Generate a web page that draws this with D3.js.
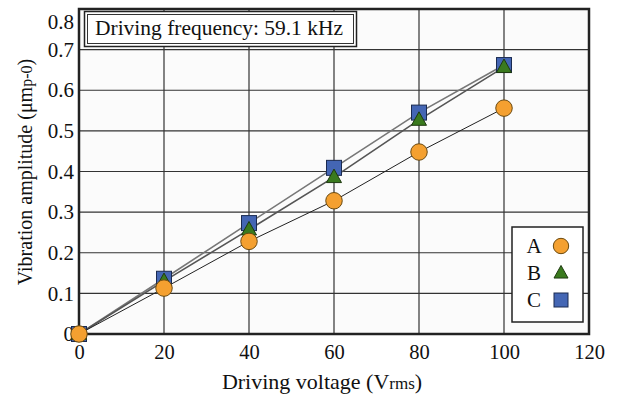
<!DOCTYPE html>
<html><head><meta charset="utf-8">
<script src="https://cdn.jsdelivr.net/npm/d3@7/dist/d3.min.js"></script>
<style>body{margin:0;background:#fff;}</style>
</head><body><svg id="c" width="622" height="397" font-family="Liberation Serif"></svg>
<script>
const voltages = [0, 20, 40, 60, 80, 100];
const seriesA = [0, 0.113, 0.228, 0.328, 0.448, 0.556];
const seriesB = [0, 0.130, 0.257, 0.386, 0.527, 0.657];
const seriesC = [0, 0.136, 0.273, 0.409, 0.545, 0.662];
const seriesNames = ["A", "B", "C"];
const xTicks = [0, 20, 40, 60, 80, 100, 120];
const yTicks = [0, 0.1, 0.2, 0.3, 0.4, 0.5, 0.6, 0.7, 0.8];
const yTickLabels = ["0", "0.1", "0.2", "0.3", "0.4", "0.5", "0.6", "0.7", "0.8"];
const annotation = "Driving frequency: 59.1 kHz";
const FONT = "Liberation Serif";

const svg = d3.select("#c");
const L = 79, R = 589, T = 9, B = 334;
const x = d3.scaleLinear().domain([0, 120]).range([L, R]);
const y = d3.scaleLinear().domain([0, 0.8]).range([B, T]);

svg.append("rect").attr("x", L).attr("y", T).attr("width", R - L).attr("height", B - T).attr("fill", "#fbfbfb");

// grid
svg.append("g").selectAll("line").data(xTicks.slice(1, -1)).join("line")
  .attr("x1", d => x(d)).attr("x2", d => x(d)).attr("y1", T).attr("y2", B)
  .attr("stroke", "#333").attr("stroke-width", 1.2);
svg.append("g").selectAll("line").data(yTicks.slice(1, -1)).join("line")
  .attr("y1", d => y(d)).attr("y2", d => y(d)).attr("x1", L).attr("x2", R)
  .attr("stroke", "#333").attr("stroke-width", 1.2);

// axes
const xAxis = d3.axisBottom(x).tickValues(xTicks).tickSize(0).tickPadding(10);
const gx = svg.append("g").attr("transform", `translate(0,${B})`).call(xAxis);
gx.attr("font-family", FONT).attr("font-size", 20.5);
gx.select(".domain").remove();
gx.selectAll("text").attr("fill", "#111").attr("font-family", FONT);
const yAxis = d3.axisLeft(y).tickValues(yTicks).tickFormat((d, i) => yTickLabels[i]).tickSize(0).tickPadding(5);
const gy = svg.append("g").attr("transform", `translate(${L},0)`).call(yAxis);
gy.attr("font-family", FONT).attr("font-size", 21);
gy.select(".domain").remove();
gy.selectAll("text").attr("fill", "#111").attr("font-family", FONT)
  .attr("dy", d => d === 0.8 ? "0.95em" : "0.32em");

// frame
svg.append("rect").attr("x", L).attr("y", T).attr("width", R - L).attr("height", B - T)
  .attr("fill", "none").attr("stroke", "#222").attr("stroke-width", 2.5);

// lines
const data = [seriesA, seriesB, seriesC];
const lineGen = d3.line().x((d, i) => x(voltages[i])).y(d => y(d));
const lineStyles = [{c: "#222", w: 1}, {c: "#555", w: 1.6}, {c: "#777", w: 1.6}];
[2, 1, 0].forEach(k => {
  svg.append("path").datum(data[k]).attr("d", lineGen).attr("fill", "none")
    .attr("stroke", lineStyles[k].c).attr("stroke-width", lineStyles[k].w);
});

const colors = {A: "#f4a030", B: "#3a7a1e", C: "#4466b4"};
function marker(g, name, cx, cy, s) {
  if (name === "A") {
    g.append("circle").attr("cx", cx).attr("cy", cy).attr("r", s * 0.55)
      .attr("fill", colors.A).attr("stroke", "#6b4a10").attr("stroke-width", 1);
  } else if (name === "B") {
    const h = s * 0.9, w = s * 1.0;
    g.append("path").attr("d", `M${cx},${cy - h * 0.6} L${cx + w / 2},${cy + h * 0.4} L${cx - w / 2},${cy + h * 0.4} Z`)
      .attr("fill", colors.B).attr("stroke", "#1e3a10").attr("stroke-width", 1);
  } else {
    g.append("rect").attr("x", cx - s / 2).attr("y", cy - s / 2).attr("width", s).attr("height", s)
      .attr("fill", colors.C).attr("stroke", "#1a2a50").attr("stroke-width", 1);
  }
}
const mg = svg.append("g");
[2, 1, 0].forEach(k => {
  data[k].forEach((v, i) => marker(mg, seriesNames[k], x(voltages[i]), y(v), 15));
});

// annotation box
const ab = svg.append("g");
ab.append("rect").attr("x", 84.5).attr("y", 11.5).attr("width", 272).attr("height", 35)
  .attr("fill", "#fff").attr("stroke", "#222").attr("stroke-width", 1.5);
ab.append("rect").attr("x", 87.5).attr("y", 14.5).attr("width", 266).attr("height", 29)
  .attr("fill", "none").attr("stroke", "#333").attr("stroke-width", 1);
ab.append("text").attr("x", 95).attr("y", 35).attr("font-family", FONT).attr("font-size", 21)
  .attr("textLength", 248).attr("lengthAdjust", "spacingAndGlyphs").attr("fill", "#111").text(annotation);

// legend
const lg = svg.append("g");
lg.append("rect").attr("x", 512).attr("y", 227).attr("width", 71).attr("height", 95)
  .attr("fill", "#fff").attr("stroke", "#222").attr("stroke-width", 1.5);
seriesNames.forEach((n, i) => {
  const cy = 246 + i * 27;
  lg.append("text").attr("x", 534).attr("y", cy + 6.5).attr("text-anchor", "middle")
    .attr("font-family", FONT).attr("font-size", 21).attr("fill", "#111").text(n);
  marker(lg, n, 561, cy, 14);
});

// axis titles
const xt = svg.append("text").attr("x", 322).attr("y", 389).attr("text-anchor", "middle")
  .attr("font-family", FONT).attr("font-size", 22).attr("fill", "#111");
xt.append("tspan").text("Driving voltage (V");
xt.append("tspan").attr("font-size", 17).text("rms");
xt.append("tspan").text(")");
const yt = svg.append("text").attr("transform", "translate(32,172) rotate(-90)").attr("text-anchor", "middle")
  .attr("font-family", FONT).attr("font-size", 20).attr("fill", "#111");
yt.append("tspan").text("Vibration amplitude (μm");
yt.append("tspan").attr("font-size", 16).text("p-0");
yt.append("tspan").text(")");
</script></body></html>
